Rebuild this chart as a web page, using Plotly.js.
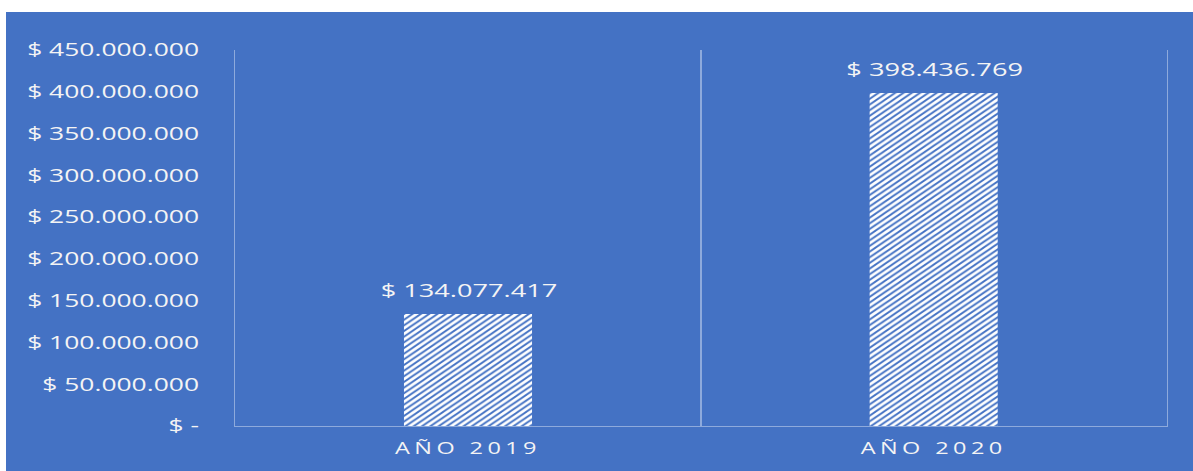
<!DOCTYPE html>
<html>
<head>
<meta charset="utf-8">
<script src="https://cdn.plot.ly/plotly-3.0.1.min.js"></script>
<style>
  html, body { margin: 0; padding: 0; background: #ffffff; overflow: hidden; }
  #wrap { position: absolute; left: 6px; top: 12px; width: 1187px; height: 459px; overflow: hidden; background: #4472C4; }
  #chart { width: 808px; height: 459px; transform: scaleX(1.469); transform-origin: 0 0; }
  .xtick text { letter-spacing: 3px; }
</style>
</head>
<body>
<div id="wrap"><div id="chart"></div></div>
<script>
const categories = ["AÑO 2019", "AÑO 2020"];
const values = [134077417, 398436769];
const valueLabels = ["$ 134.077.417", "$ 398.436.769"];
const yTickVals = [0, 50000000, 100000000, 150000000, 200000000, 250000000, 300000000, 350000000, 400000000, 450000000];
const yTickText = ["$ -", "$ 50.000.000", "$ 100.000.000", "$ 150.000.000", "$ 200.000.000", "$ 250.000.000", "$ 300.000.000", "$ 350.000.000", "$ 400.000.000", "$ 450.000.000"];

const blue = "#4472C4";
const txt = "#f4f4f4";
const lineCol = "#8eaadc";

const trace = {
  type: "bar",
  x: categories,
  y: values,
  cliponaxis: false,
  marker: {
    color: "#ffffff",
    line: { width: 0 },
    pattern: { shape: "/", fgcolor: blue, bgcolor: "#ffffff", size: 4, solidity: 0.4 }
  },
  hoverinfo: "skip"
};

const annotations = categories.map((c, i) => ({
  x: c,
  y: values[i],
  xref: "x",
  yref: "y",
  text: valueLabels[i],
  showarrow: false,
  yanchor: "bottom",
  yshift: 10,
  font: { family: "Open Sans", size: 18.5, color: txt }
}));

const layout = {
  width: 808,
  height: 459,
  margin: { l: 156, r: 18, t: 38, b: 45 },
  paper_bgcolor: blue,
  plot_bgcolor: blue,
  bargap: 0.725,
  showlegend: false,
  font: { family: "Open Sans", color: txt },
  annotations: annotations,
  xaxis: {
    type: "category",
    tickson: "boundaries",
    showgrid: true,
    gridcolor: lineCol,
    gridwidth: 1,
    showline: true,
    linecolor: lineCol,
    linewidth: 1,
    ticks: "",
    ticklabelstandoff: 8,
    tickfont: { family: "Open Sans", size: 16, color: txt },
    zeroline: false
  },
  yaxis: {
    range: [0, 450000000],
    tickvals: yTickVals,
    ticktext: yTickText,
    showgrid: false,
    zeroline: false,
    showline: true,
    mirror: true,
    linecolor: lineCol,
    linewidth: 1,
    ticks: "",
    ticklabelstandoff: 20,
    tickfont: { family: "Open Sans", size: 18, color: txt }
  }
};

Plotly.newPlot("chart", [trace], layout, { displayModeBar: false, staticPlot: true });
</script>
</body>
</html>
